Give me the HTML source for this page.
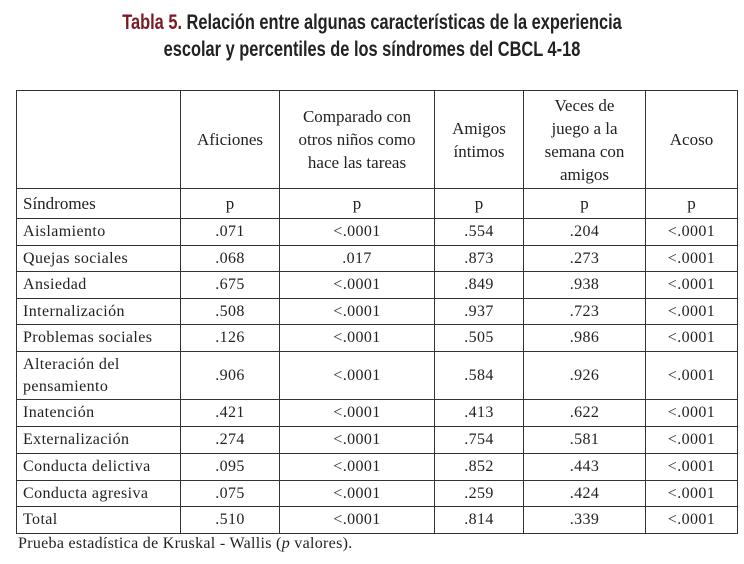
<!DOCTYPE html>
<html><head><meta charset="utf-8"><style>
body{margin:0;width:744px;height:564px;background:#fff;position:relative;font-family:"Liberation Serif",serif;color:#222;overflow:hidden}
.t{position:absolute;left:0;width:744px;text-align:center;font-family:"Liberation Sans",sans-serif;font-size:21px;font-weight:bold;color:#222;transform:scaleX(0.78);transform-origin:372px 0;white-space:nowrap}
.t b{color:#7a1a22}
table{position:absolute;left:16px;top:90px;border-collapse:collapse;font-size:16px;letter-spacing:0.4px;table-layout:fixed;width:721px}
td{border:1.3px solid #333;padding:0 6px;line-height:22px}
td.c{text-align:center}
.h td{font-size:17px;letter-spacing:0;line-height:23px}
.foot{position:absolute;left:18px;top:535px;font-size:16px;letter-spacing:0.3px}
</style></head><body>
<div class="t" style="top:11px"><b>Tabla 5.</b> Relación entre algunas características de la experiencia</div>
<div class="t" style="top:38px">escolar y percentiles de los síndromes del CBCL 4-18</div>
<table>
<colgroup><col style="width:164px"><col style="width:99px"><col style="width:155px"><col style="width:89px"><col style="width:122px"><col style="width:92px"></colgroup>
<tr class="h" style="height:98px"><td></td><td class="c">Aficiones</td><td class="c">Comparado con otros niños como hace las tareas</td><td class="c">Amigos íntimos</td><td class="c">Veces de<br>juego a la<br>semana con<br>amigos</td><td class="c">Acoso</td></tr>
<tr class="h" style="height:30px"><td>Síndromes</td><td class="c">p</td><td class="c">p</td><td class="c">p</td><td class="c">p</td><td class="c">p</td></tr>
<tr style="height:27px"><td>Aislamiento</td><td class="c">.071</td><td class="c">&lt;.0001</td><td class="c">.554</td><td class="c">.204</td><td class="c">&lt;.0001</td></tr>
<tr style="height:26px"><td>Quejas sociales</td><td class="c">.068</td><td class="c">.017</td><td class="c">.873</td><td class="c">.273</td><td class="c">&lt;.0001</td></tr>
<tr style="height:27px"><td>Ansiedad</td><td class="c">.675</td><td class="c">&lt;.0001</td><td class="c">.849</td><td class="c">.938</td><td class="c">&lt;.0001</td></tr>
<tr style="height:26px"><td>Internalización</td><td class="c">.508</td><td class="c">&lt;.0001</td><td class="c">.937</td><td class="c">.723</td><td class="c">&lt;.0001</td></tr>
<tr style="height:27px"><td>Problemas sociales</td><td class="c">.126</td><td class="c">&lt;.0001</td><td class="c">.505</td><td class="c">.986</td><td class="c">&lt;.0001</td></tr>
<tr style="height:48px"><td>Alteración del pensamiento</td><td class="c">.906</td><td class="c">&lt;.0001</td><td class="c">.584</td><td class="c">.926</td><td class="c">&lt;.0001</td></tr>
<tr style="height:27px"><td>Inatención</td><td class="c">.421</td><td class="c">&lt;.0001</td><td class="c">.413</td><td class="c">.622</td><td class="c">&lt;.0001</td></tr>
<tr style="height:27px"><td>Externalización</td><td class="c">.274</td><td class="c">&lt;.0001</td><td class="c">.754</td><td class="c">.581</td><td class="c">&lt;.0001</td></tr>
<tr style="height:27px"><td>Conducta delictiva</td><td class="c">.095</td><td class="c">&lt;.0001</td><td class="c">.852</td><td class="c">.443</td><td class="c">&lt;.0001</td></tr>
<tr style="height:26px"><td>Conducta agresiva</td><td class="c">.075</td><td class="c">&lt;.0001</td><td class="c">.259</td><td class="c">.424</td><td class="c">&lt;.0001</td></tr>
<tr style="height:27px"><td>Total</td><td class="c">.510</td><td class="c">&lt;.0001</td><td class="c">.814</td><td class="c">.339</td><td class="c">&lt;.0001</td></tr>
</table>
<div class="foot">Prueba estadística de Kruskal - Wallis (<i>p</i> valores).</div>
</body></html>
